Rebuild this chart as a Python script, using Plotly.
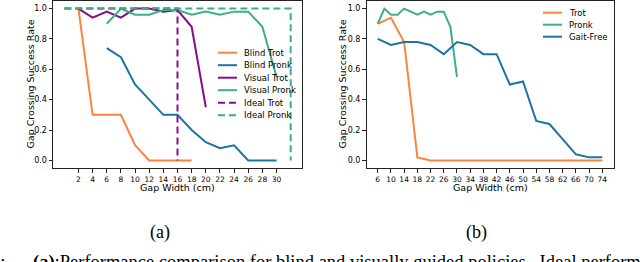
import plotly.graph_objects as go

W, H = 640, 262

# ---------------- data (a) ----------------
blind_trot_x = [2, 4, 6, 8, 10, 12, 14, 16, 18]
blind_trot_y = [1.0, 0.3, 0.3, 0.3, 0.1, 0.0, 0.0, 0.0, 0.0]
blind_pronk_x = [6, 8, 10, 12, 14, 16, 18, 20, 22, 24, 26, 28, 30]
blind_pronk_y = [0.74, 0.68, 0.5, 0.4, 0.3, 0.3, 0.2, 0.12, 0.08, 0.1, 0.0, 0.0, 0.0]
visual_trot_x = [2, 4, 6, 8, 10, 12, 14, 16, 18, 20]
visual_trot_y = [1.0, 0.94, 0.98, 0.94, 1.0, 1.0, 0.98, 0.99, 0.88, 0.35]
visual_pronk_x = [6, 8, 10, 12, 14, 16, 18, 20, 22, 24, 26, 28, 30]
visual_pronk_y = [0.9, 1.0, 0.96, 0.96, 0.99, 0.99, 0.96, 0.98, 0.96, 0.98, 0.98, 0.88, 0.55]
ideal_trot_x = [0, 16, 16]
ideal_trot_y = [1.0, 1.0, 0.0]
ideal_pronk_x = [0, 32, 32]
ideal_pronk_y = [1.0, 1.0, 0.0]
ticks_a = [2, 4, 6, 8, 10, 12, 14, 16, 18, 20, 22, 24, 26, 28, 30]

# ---------------- data (b) ----------------
trot_x = [6, 10, 14, 18, 22, 26, 30, 34, 38, 42, 46, 50, 54, 58, 62, 66, 70, 74]
trot_y = [0.90, 0.94, 0.78, 0.02, 0, 0, 0, 0, 0, 0, 0, 0, 0, 0, 0, 0, 0, 0]
pronk_x = [6, 8, 10, 12, 14, 16, 18, 20, 22, 24, 26, 28, 30]
pronk_y = [0.90, 1.0, 0.96, 0.96, 1.0, 0.98, 0.96, 0.98, 0.96, 0.98, 0.98, 0.88, 0.55]
gaitfree_x = [6, 10, 14, 18, 22, 26, 30, 34, 38, 42, 46, 50, 54, 58, 62, 66, 70, 74]
gaitfree_y = [0.80, 0.76, 0.78, 0.78, 0.76, 0.70, 0.78, 0.76, 0.70, 0.70, 0.50, 0.52,
              0.26, 0.24, 0.14, 0.04, 0.02, 0.02]
ticks_b = [6, 10, 14, 18, 22, 26, 30, 34, 38, 42, 46, 50, 54, 58, 62, 66, 70, 74]
yticks = [0.0, 0.2, 0.4, 0.6, 0.8, 1.0]

ORANGE = "#ff8243"
BLUE = "#1c75a2"
PURPLE = "#880c8c"
GREEN = "#3caf86"

def px(x):
    return x / W

def py(y):
    return 1 - y / H

fig = go.Figure()

def add(x, y, color, name, axis, dash="solid"):
    fig.add_trace(go.Scatter(x=x, y=y, mode="lines", name=name,
                             line=dict(color=color, width=2, dash=dash),
                             xaxis="x" if axis == 1 else "x2",
                             yaxis="y" if axis == 1 else "y2",
                             showlegend=False))

DASH = "7px,4px"
add(blind_trot_x, blind_trot_y, ORANGE, "Blind Trot", 1)
add(blind_pronk_x, blind_pronk_y, BLUE, "Blind Pronk", 1)
add(visual_trot_x, visual_trot_y, PURPLE, "Visual Trot", 1)
add(visual_pronk_x, visual_pronk_y, GREEN, "Visual Pronk", 1)
add(ideal_trot_x, ideal_trot_y, PURPLE, "Ideal Trot", 1, DASH)
add(ideal_pronk_x, ideal_pronk_y, GREEN, "Ideal Pronk", 1, DASH)

add(trot_x, trot_y, ORANGE, "Trot", 2)
add(pronk_x, pronk_y, GREEN, "Pronk", 2)
add(gaitfree_x, gaitfree_y, BLUE, "Gait-Free", 2)

SANS = "DejaVu Sans"
SERIF = "Liberation Serif"

axis_common = dict(showline=True, linecolor="#222", linewidth=1, mirror=True,
                   ticks="outside", ticklen=3.5, tickwidth=0.8, tickcolor="#222",
                   showgrid=False, zeroline=False, automargin=False)

fig.update_layout(
    width=W, height=H,
    margin=dict(l=0, r=0, t=0, b=0, autoexpand=False),
    paper_bgcolor="white", plot_bgcolor="white",
    xaxis=dict(domain=[px(53), px(302)], range=[-1.6, 33.6], tickvals=ticks_a,
               tickfont=dict(family=SANS, size=7.5, color="black"), anchor="y", **axis_common),
    yaxis=dict(domain=[py(168), py(1)], range=[-0.05, 1.05], tickvals=yticks,
               tickformat=".1f", tickfont=dict(family=SANS, size=8, color="black"),
               anchor="x", **axis_common),
    xaxis2=dict(domain=[px(366.5), px(613.5)], range=[2.6, 77.4], tickvals=ticks_b,
                tickfont=dict(family=SANS, size=7.5, color="black"), anchor="y2", **axis_common),
    yaxis2=dict(domain=[py(168), py(1)], range=[-0.05, 1.05], tickvals=yticks,
                tickformat=".1f", tickfont=dict(family=SANS, size=8, color="black"),
                anchor="x2", **axis_common),
)

ann = []
shapes = []
# axis titles
for cx in (30, 342):
    ann.append(dict(text="Gap Crossing Success Rate", x=px(cx), y=py(84.5), xref="paper", yref="paper",
                    textangle=-90, showarrow=False, xanchor="center", yanchor="middle",
                    font=dict(family=SANS, size=9.5, color="black")))
for cx in (177.5, 490):
    ann.append(dict(text="Gap Width (cm)", x=px(cx), y=py(187), xref="paper", yref="paper",
                    showarrow=False, xanchor="center", yanchor="middle",
                    font=dict(family=SANS, size=9.5, color="black")))

# manual legends
legend_a = [("Blind Trot", ORANGE, "solid"), ("Blind Pronk", BLUE, "solid"),
            ("Visual Trot", PURPLE, "solid"), ("Visual Pronk", GREEN, "solid"),
            ("Ideal Trot", PURPLE, DASH), ("Ideal Pronk", GREEN, DASH)]
legend_b = [("Trot", ORANGE, "solid"), ("Pronk", GREEN, "solid"), ("Gait-Free", BLUE, "solid")]

def draw_legend(entries, x0, x1, xt, y0, dy):
    for i, (name, color, dash) in enumerate(entries):
        yy = y0 + i * dy
        shapes.append(dict(type="line", xref="paper", yref="paper",
                           x0=px(x0), x1=px(x1), y0=py(yy), y1=py(yy),
                           line=dict(color=color, width=2, dash=dash)))
        ann.append(dict(text=name, x=px(xt), y=py(yy), xref="paper", yref="paper",
                        showarrow=False, xanchor="left", yanchor="middle",
                        font=dict(family=SANS, size=8.5, color="black")))

draw_legend(legend_a, 218, 237, 242, 52.7, 12.5)
draw_legend(legend_b, 543, 562, 567, 12.7, 12.0)

# sub-figure labels and caption
ann.append(dict(text="(a)", x=px(159.5), y=py(232.5), xref="paper", yref="paper", showarrow=False,
                xanchor="center", yanchor="middle", font=dict(family=SERIF, size=18, color="black")))
ann.append(dict(text="(b)", x=px(476), y=py(232.5), xref="paper", yref="paper", showarrow=False,
                xanchor="center", yanchor="middle", font=dict(family=SERIF, size=18, color="black")))
ann.append(dict(text="Fig. 4:", x=px(7), y=py(262), xref="paper", yref="paper", showarrow=False,
                xanchor="right", yanchor="middle", font=dict(family=SERIF, size=18.5, color="black")))
ann.append(dict(text="<b>(a)</b>:Performance comparison for blind and visually guided policies.  Ideal performance",
                x=px(31), y=py(262), xref="paper", yref="paper", showarrow=False,
                xanchor="left", yanchor="middle", font=dict(family=SERIF, size=18.5, color="black")))

fig.update_layout(annotations=ann, shapes=shapes)
fig.write_html("out.html", config={"displayModeBar": False},
               post_script="document.body.style.margin='0';document.body.style.padding='0';document.body.style.overflow='hidden';")
